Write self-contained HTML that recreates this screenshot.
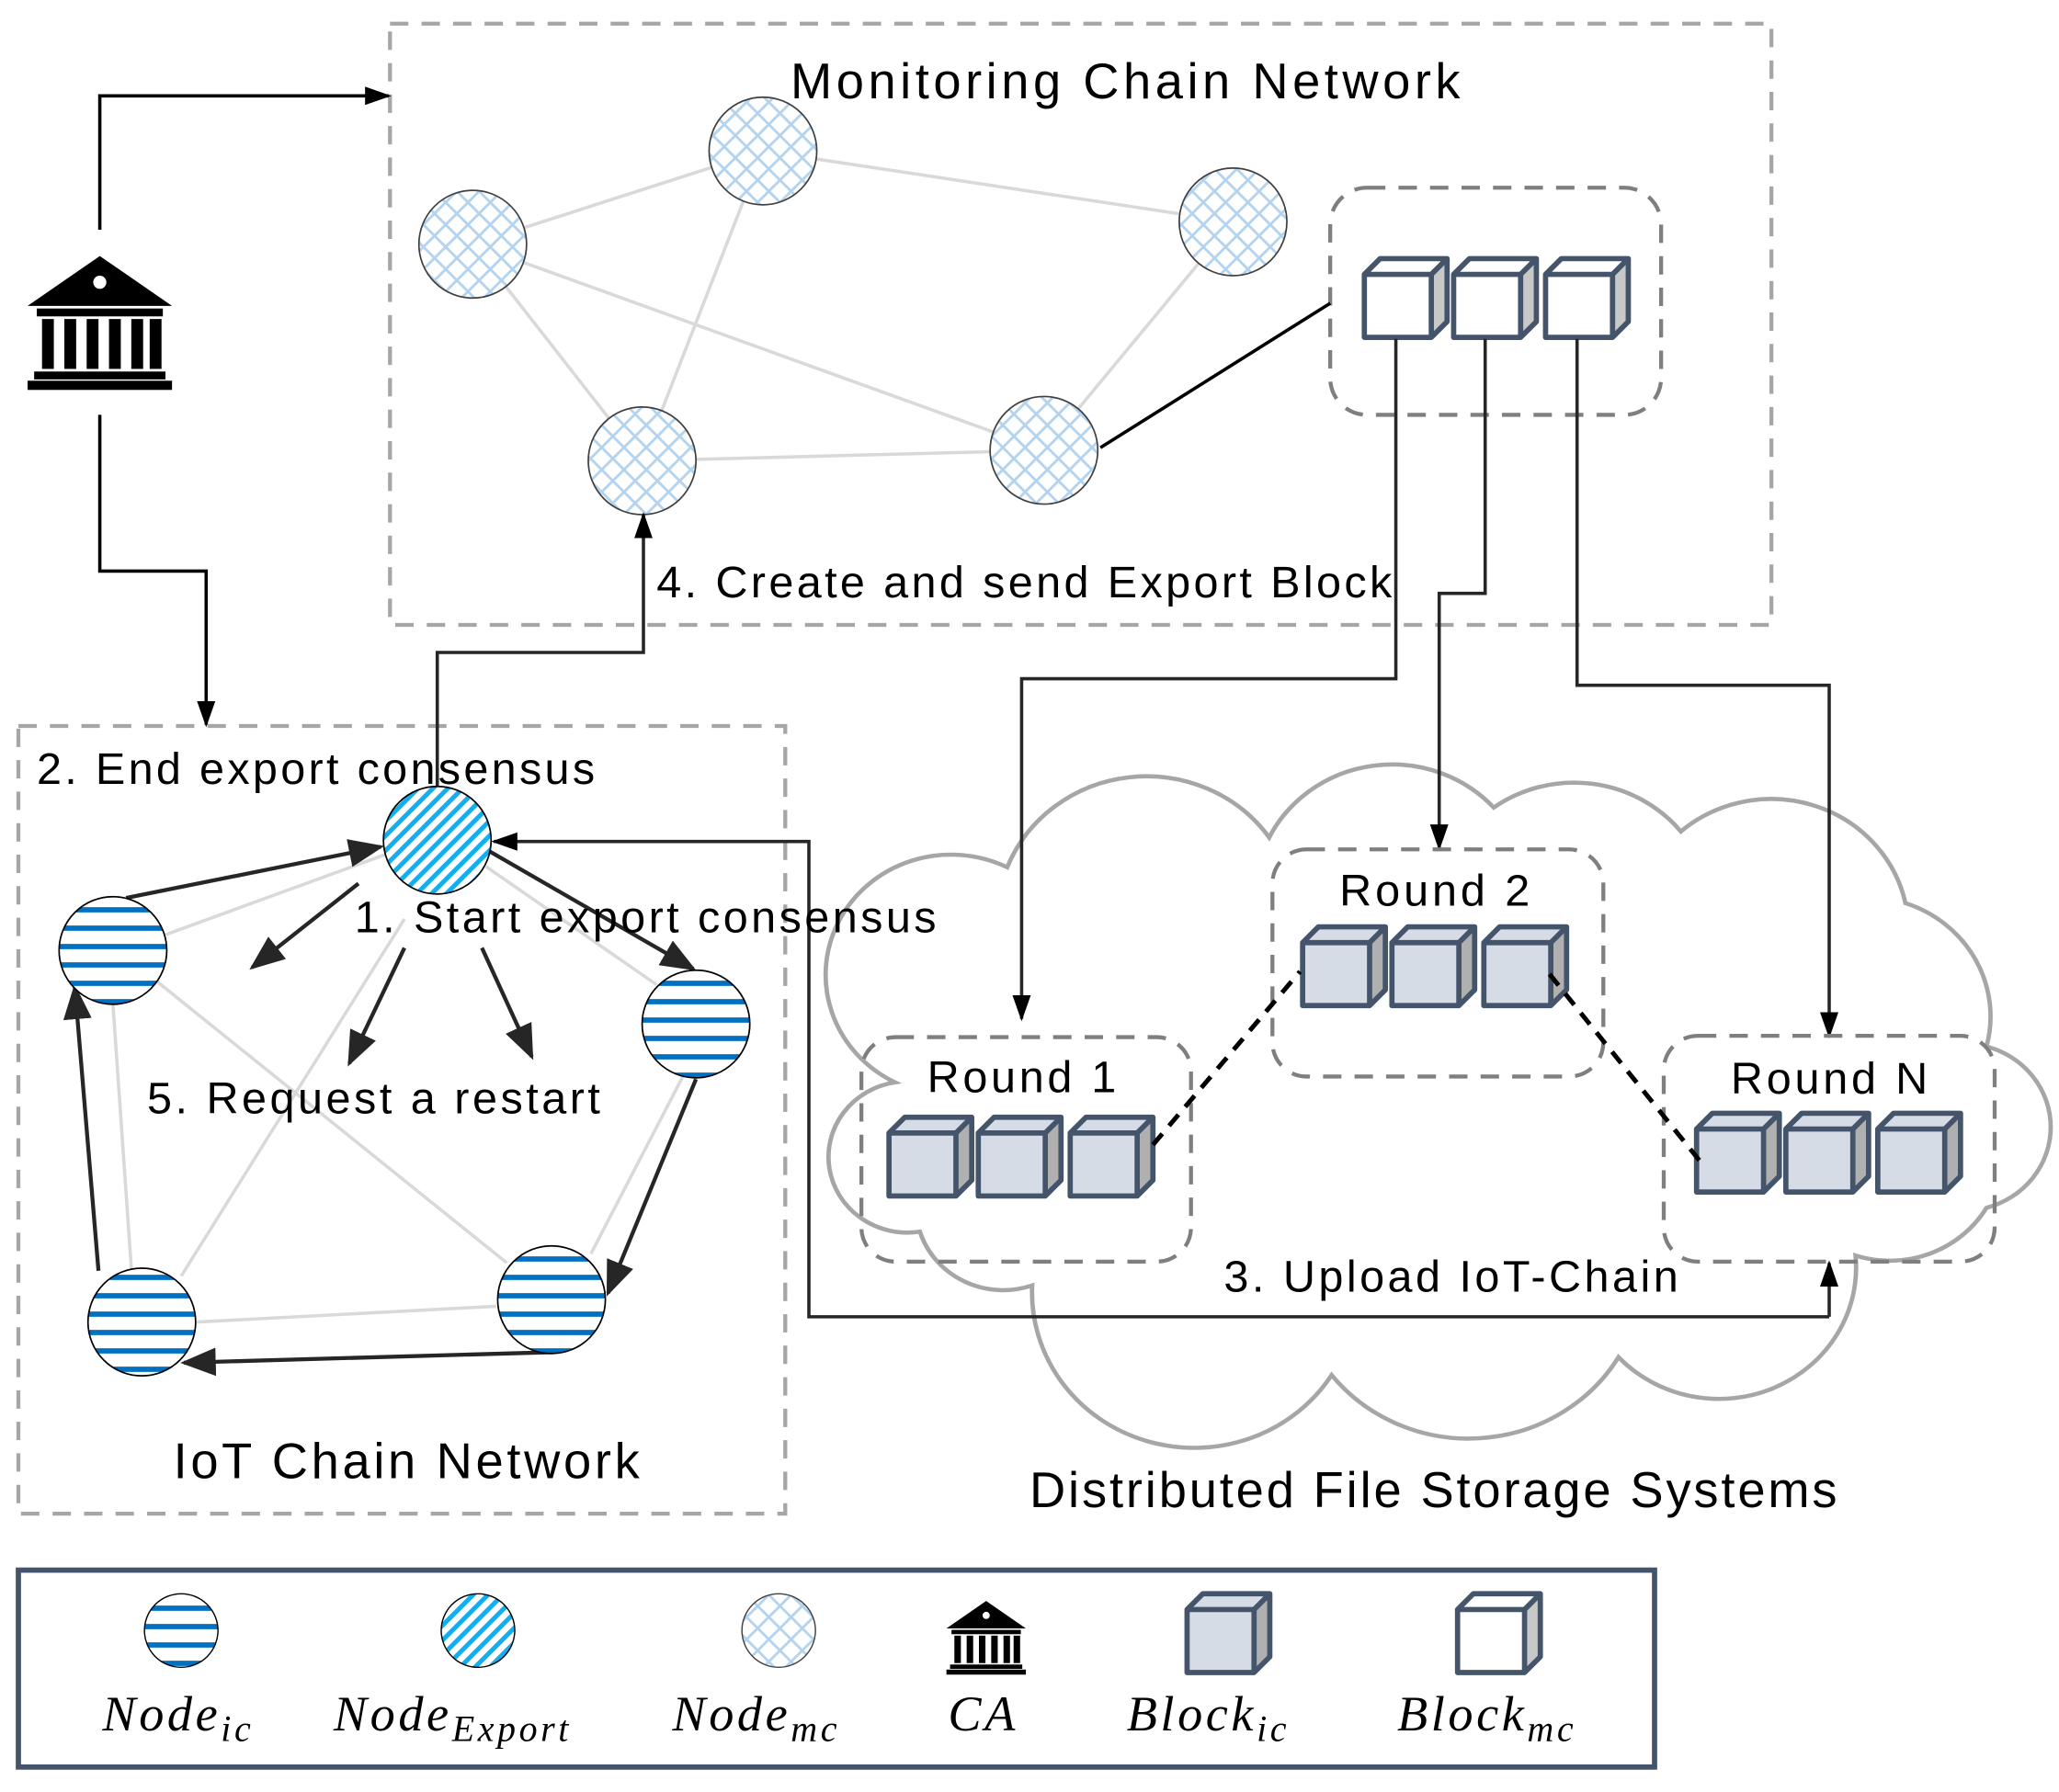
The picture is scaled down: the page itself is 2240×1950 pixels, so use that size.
<!DOCTYPE html>
<html><head><meta charset="utf-8"><style>
html,body{margin:0;padding:0;background:#fff}
svg{display:block}
text{font-family:"Liberation Sans",sans-serif;fill:#000}
.it{font-family:"Liberation Serif",serif;font-style:italic;letter-spacing:2.5px}
</style></head><body>
<svg width="2240" height="1950" viewBox="0 0 1568 1365" preserveAspectRatio="none" xmlns="http://www.w3.org/2000/svg">
<defs>
<marker id="ar" viewBox="0 0 10 10" refX="9" refY="5" markerWidth="20" markerHeight="20" markerUnits="userSpaceOnUse" orient="auto"><path d="M0,1.5L10,5L0,8.5z" fill="#000"/></marker>
<marker id="ar2" viewBox="0 0 10 10" refX="9" refY="5" markerWidth="9" markerHeight="9" orient="auto"><path d="M0,1L10,5L0,9z" fill="#262626"/></marker>
<pattern id="stripe" width="20" height="14" patternUnits="userSpaceOnUse"><rect width="20" height="14" fill="#fff"/><rect y="5" width="20" height="4" fill="#0070c0"/></pattern>
<pattern id="hatch" width="8" height="8" patternUnits="userSpaceOnUse" patternTransform="rotate(45)"><rect width="8" height="8" fill="#fff"/><rect width="3.5" height="8" fill="#13aef0"/></pattern>
<pattern id="cross" width="12" height="12" patternUnits="userSpaceOnUse" patternTransform="rotate(45)"><rect width="12" height="12" fill="#fff"/><rect width="2" height="12" fill="#b4d3ee"/><rect width="12" height="2" fill="#b4d3ee"/></pattern>
<g id="cube"><path d="M0,12L12,0H63V48L51,60H0Z" fill="#d6dce5"/><path d="M51,12L63,0V48L51,60Z" fill="#b0b0b0"/><path d="M0,12L12,0H63V48L51,60H0ZM0,12H51L63,0M51,12V60" fill="none" stroke="#44546a" stroke-width="4" stroke-linejoin="round"/></g>
<g id="cubew"><path d="M0,12L12,0H63V48L51,60H0Z" fill="#fff"/><path d="M51,12L63,0V48L51,60Z" fill="#c8c8c8"/><path d="M0,12L12,0H63V48L51,60H0ZM0,12H51L63,0M51,12V60" fill="none" stroke="#44546a" stroke-width="4" stroke-linejoin="round"/></g>
<g id="ca"><path d="M-55,-12L0,-50L55,-12Z" fill="#000"/><circle cx="0" cy="-30" r="5" fill="#fff"/><rect x="-48" y="-10" width="96" height="6" fill="#000"/><g fill="#000"><rect x="-44" y="-2" width="9" height="38"/><rect x="-27" y="-2" width="9" height="38"/><rect x="-10" y="-2" width="9" height="38"/><rect x="7" y="-2" width="9" height="38"/><rect x="24" y="-2" width="9" height="38"/><rect x="38" y="-2" width="9" height="38"/></g><rect x="-50" y="38" width="100" height="6" fill="#000"/><rect x="-55" y="45" width="110" height="7" fill="#000"/></g>
</defs>

<!-- Monitoring chain -->
<rect x="297" y="18" width="1052" height="458" fill="none" stroke="#a6a6a6" stroke-width="3" stroke-dasharray="14,10"/>
<text x="602" y="75" font-size="38" textLength="510">Monitoring Chain Network</text>
<g stroke="#d9d9d9" stroke-width="2.5">
<line x1="360" y1="186" x2="581" y2="115"/><line x1="581" y1="115" x2="939" y2="169"/><line x1="360" y1="186" x2="795" y2="343"/><line x1="360" y1="186" x2="489" y2="351"/><line x1="581" y1="115" x2="489" y2="351"/><line x1="489" y1="351" x2="795" y2="343"/><line x1="939" y1="169" x2="795" y2="343"/>
</g>
<g fill="url(#cross)" stroke="#404040" stroke-width="1.2">
<circle cx="360" cy="186" r="41"/><circle cx="581" cy="115" r="41"/><circle cx="939" cy="169" r="41"/><circle cx="489" cy="351" r="41"/><circle cx="795" cy="343" r="41"/>
</g>
<rect x="1013" y="143" width="252" height="173" rx="28" fill="none" stroke="#7f7f7f" stroke-width="3" stroke-dasharray="14,10"/>
<use href="#cubew" x="1039" y="197"/><use href="#cubew" x="1107" y="197"/><use href="#cubew" x="1177" y="197"/>
<line x1="838" y1="341" x2="1013" y2="231" stroke="#000" stroke-width="2.5"/>

<!-- CA -->
<use href="#ca" x="76" y="245"/>
<path d="M76,175V73H296" fill="none" stroke="#000" stroke-width="2.5" marker-end="url(#ar)"/>
<path d="M76,316V435H157V552" fill="none" stroke="#000" stroke-width="2.5" marker-end="url(#ar)"/>

<!-- Cloud -->
<path transform="translate(1091,839) scale(0.95,0.91) translate(-1081,-846)" d="M670,955 A60,60 0 0 1 650,830 A80,80 0 0 1 740,650 A120,120 0 0 1 950,625 A110,110 0 0 1 1130,600 A110,110 0 0 1 1280,620 A110,110 0 0 1 1460,680 A100,100 0 0 1 1525,800 A70,70 0 0 1 1525,935 A90,90 0 0 1 1420,975 A110,110 0 0 1 1230,1060 A140,140 0 0 1 1000,1075 A130,130 0 0 1 760,1000 A70,70 0 0 1 670,955Z" fill="#fff" stroke="#a6a6a6" stroke-width="3.5"/>

<!-- monitoring block to rounds -->
<path d="M1063,258V517H778V776" fill="none" stroke="#262626" stroke-width="2.5" marker-end="url(#ar)"/>
<path d="M1131,258V452H1096V646" fill="none" stroke="#262626" stroke-width="2.5" marker-end="url(#ar)"/>
<path d="M1201,258V522H1393V789" fill="none" stroke="#262626" stroke-width="2.5" marker-end="url(#ar)"/>

<!-- rounds -->
<rect x="656" y="790" width="251" height="171" rx="26" fill="none" stroke="#7f7f7f" stroke-width="3" stroke-dasharray="14,10"/>
<rect x="969" y="647" width="252" height="173" rx="26" fill="none" stroke="#7f7f7f" stroke-width="3" stroke-dasharray="14,10"/>
<rect x="1267" y="789" width="252" height="172" rx="26" fill="none" stroke="#7f7f7f" stroke-width="3" stroke-dasharray="14,10"/>
<text x="706" y="832" font-size="34" textLength="144">Round 1</text>
<text x="1020" y="690" font-size="34" textLength="145">Round 2</text>
<text x="1318" y="833" font-size="34" textLength="150">Round N</text>
<use href="#cube" x="677" y="851"/><use href="#cube" x="745" y="851"/><use href="#cube" x="815" y="851"/>
<use href="#cube" x="992" y="706"/><use href="#cube" x="1060" y="706"/><use href="#cube" x="1130" y="706"/>
<use href="#cube" x="1292" y="848"/><use href="#cube" x="1360" y="848"/><use href="#cube" x="1430" y="848"/>
<line x1="878" y1="872" x2="990" y2="740" stroke="#000" stroke-width="3.5" stroke-dasharray="11,8"/>
<line x1="1180" y1="742" x2="1295" y2="885" stroke="#000" stroke-width="3.5" stroke-dasharray="11,8"/>
<text x="932" y="984" font-size="34" textLength="346">3. Upload IoT-Chain</text>
<text x="784" y="1148" font-size="38" textLength="615">Distributed File Storage Systems</text>

<!-- IoT chain -->
<rect x="14" y="553" width="584" height="600" fill="none" stroke="#a6a6a6" stroke-width="3" stroke-dasharray="14,10"/>
<text x="28" y="597" font-size="34" textLength="425">2. End export consensus</text>
<path d="M333,600V497H490V392" fill="none" stroke="#262626" stroke-width="2.5" marker-end="url(#ar)"/>
<text x="500" y="455" font-size="34" textLength="560">4. Create and send Export Block</text>
<path d="M1393,1003H616V641H376" fill="none" stroke="#262626" stroke-width="2.5" marker-end="url(#ar)"/>
<line x1="1393" y1="1003" x2="1393" y2="962" stroke="#262626" stroke-width="2.5" marker-end="url(#ar)"/>
<g stroke="#d9d9d9" stroke-width="2.5">
<line x1="126" y1="712" x2="296" y2="650"/><line x1="370" y1="660" x2="500" y2="750"/><line x1="308" y1="700" x2="138" y2="972"/><line x1="120" y1="748" x2="386" y2="962"/><line x1="86" y1="765" x2="100" y2="966"/><line x1="520" y1="820" x2="450" y2="955"/><line x1="150" y1="1007" x2="378" y2="995"/>
</g>
<g stroke="#262626" stroke-width="3" fill="none">
<line x1="96" y1="684" x2="290" y2="645" marker-end="url(#ar2)"/>
<line x1="273" y1="673" x2="192" y2="737" marker-end="url(#ar2)"/>
<line x1="308" y1="722" x2="266" y2="810" marker-end="url(#ar2)"/>
<line x1="367" y1="722" x2="405" y2="805" marker-end="url(#ar2)"/>
<line x1="372" y1="648" x2="528" y2="738" marker-end="url(#ar2)"/>
<line x1="530" y1="822" x2="463" y2="985" marker-end="url(#ar2)"/>
<line x1="420" y1="1030" x2="140" y2="1038" marker-end="url(#ar2)"/>
<line x1="75" y1="968" x2="57" y2="752" marker-end="url(#ar2)"/>
</g>
<circle cx="333" cy="640" r="41" fill="url(#hatch)" stroke="#000" stroke-width="1.2"/>
<g fill="url(#stripe)" stroke="#000" stroke-width="1.2">
<circle cx="86" cy="724" r="41"/><circle cx="530" cy="780" r="41"/><circle cx="108" cy="1007" r="41"/><circle cx="420" cy="990" r="41"/>
</g>
<text x="270" y="710" font-size="34" textLength="443">1. Start export consensus</text>
<text x="112" y="848" font-size="34" textLength="345">5. Request a restart</text>
<text x="132" y="1126" font-size="38" textLength="355">IoT Chain Network</text>

<!-- legend -->
<rect x="14" y="1196" width="1246" height="150" fill="#fff" stroke="#44546a" stroke-width="4"/>
<circle cx="138" cy="1242" r="28" fill="url(#stripe)" stroke="#000" stroke-width="1"/>
<circle cx="364" cy="1242" r="28" fill="url(#hatch)" stroke="#000" stroke-width="1"/>
<circle cx="593" cy="1242" r="28" fill="url(#cross)" stroke="#404040" stroke-width="1"/>
<use href="#ca" transform="translate(751,1247) scale(0.55)"/>
<use href="#cube" x="904" y="1214"/>
<use href="#cubew" x="1110" y="1214"/>
<text class="it" x="78" y="1318" font-size="38">Node<tspan font-size="28" dy="8">ic</tspan></text>
<text class="it" x="254" y="1318" font-size="38">Node<tspan font-size="28" dy="8">Export</tspan></text>
<text class="it" x="512" y="1318" font-size="38">Node<tspan font-size="28" dy="8">mc</tspan></text>
<text class="it" x="722" y="1318" font-size="38">CA</text>
<text class="it" x="858" y="1318" font-size="38">Block<tspan font-size="28" dy="8">ic</tspan></text>
<text class="it" x="1064" y="1318" font-size="38">Block<tspan font-size="28" dy="8">mc</tspan></text>
</svg>
</body></html>
